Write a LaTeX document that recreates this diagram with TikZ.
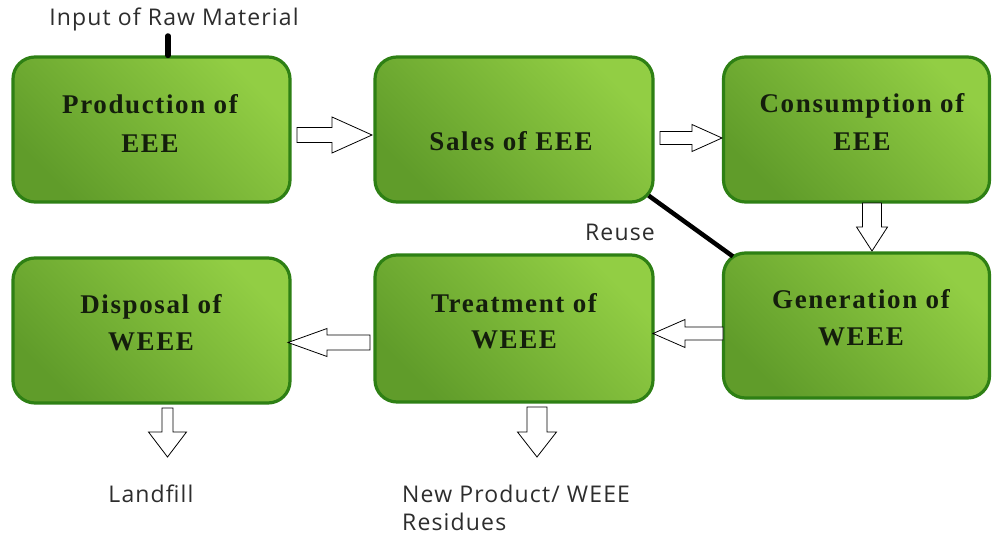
\documentclass[tikz,border=0pt]{standalone}
\usepackage{fontspec}
\setmainfont{Liberation Serif}
\newfontfamily\labfont[LetterSpace=5]{Open Sans}
\newfontfamily\boxfont[LetterSpace=6]{Liberation Serif}
\usetikzlibrary{calc}
\definecolor{gLight}{RGB}{146,206,68}
\definecolor{gDark}{RGB}{96,156,42}
\definecolor{gBorder}{RGB}{46,128,20}
\definecolor{labgray}{RGB}{45,45,45}
\definecolor{boxtext}{RGB}{20,30,12}
% horizontal hollow arrow: tail x, head base x, tip x, y, half shaft, half head
\newcommand\BArrH[6]{\draw[hollow] ({#1},{#4-#5}) -- ({#2},{#4-#5}) -- ({#2},{#4-#6}) -- ({#3},{#4}) -- ({#2},{#4+#6}) -- ({#2},{#4+#5}) -- ({#1},{#4+#5}) -- cycle;}
% vertical hollow arrow: x, tail y, head base y, tip y, half shaft, half head
\newcommand\BArrV[6]{\draw[hollow] ({#1-#5},{#2}) -- ({#1-#5},{#3}) -- ({#1-#6},{#3}) -- ({#1},{#4}) -- ({#1+#6},{#3}) -- ({#1+#5},{#3}) -- ({#1+#5},{#2}) -- cycle;}
\tikzset{
  box/.style={draw=gBorder, line width=3.2pt, rounded corners=22pt,
    top color=gLight, bottom color=gDark, shading angle=-45, inner sep=0pt},
  btext/.style={anchor=base, inner sep=0pt, text=boxtext,
    font=\boxfont\bfseries\fontsize{27}{30}\selectfont},
  lab/.style={inner sep=0pt, text=labgray, font=\labfont\fontsize{23}{27}\selectfont},
  hollow/.style={draw=black, fill=white, line width=0.8pt, line join=miter},
  thickline/.style={draw=black, line width=4.5pt, line cap=round}
}
\begin{document}
\begin{tikzpicture}[x=1pt,y=-1pt]
\useasboundingbox[fill=white] (0,0) rectangle (992,535);
% boxes
\node[box, minimum width=277pt, minimum height=145pt] (prod) at (151.5,129.5) {};
\node[box, minimum width=278pt, minimum height=145pt] (sales) at (514,129.5) {};
\node[box, minimum width=266pt, minimum height=145pt] (cons) at (856.5,129.5) {};
\node[box, minimum width=266pt, minimum height=145pt] (gen) at (856.5,325.5) {};
\node[box, minimum width=278pt, minimum height=147pt] (treat) at (514,328.5) {};
\node[box, minimum width=277pt, minimum height=145pt] (disp) at (151.5,330.5) {};
% box texts
\node[btext] (prodA) at (150,113) {Production of};
\node[btext] (prodB) at (150,152) {EEE};
\node[btext] (salesA) at (511,150) {Sales of EEE};
\node[btext] (consA) at (862,112) {Consumption of};
\node[btext] (consB) at (862,150) {EEE};
\node[btext] (genA) at (861,308) {Generation of};
\node[btext] (genB) at (861,345) {WEEE};
\node[btext] (treatA) at (514,312) {Treatment of};
\node[btext] (treatB) at (514,348) {WEEE};
\node[btext] (dispA) at (151,313) {Disposal of};
\node[btext] (dispB) at (151,350) {WEEE};
% hollow block arrows
\BArrH{297}{332}{372}{135}{7.5}{18}
\BArrH{660}{692}{722}{138}{6.5}{13.5}
\BArrV{872}{203}{227}{251}{9.5}{15.5}
\BArrH{723}{685}{653}{333.5}{6.5}{14}
\BArrH{370}{327}{288}{342.5}{7.5}{14}
\BArrV{167.5}{408}{432}{457}{5.5}{19}
\BArrV{537}{407}{432}{457}{10}{19.5}
% labels
\node[lab, anchor=base] (inlab) at (174,26) {Input of Raw Material};
\node[lab, anchor=base] (reuse) at (620,240) {Reuse};
\node[lab, anchor=base] (landfill) at (151,502) {Landfill};
\node[lab, anchor=base west] (newp) at (402,502) {New Product/ WEEE};
\node[lab, anchor=base west] (resid) at (402,530) {Residues};
% black lines
\coordinate (inTop) at (168,36);
\draw[thickline, line width=5.5pt] (inTop) -- (inTop |- prod.north);
\draw[thickline, line cap=butt] ([shift={(-6,-8)}]sales.south east) -- ([shift={(11,5)}]gen.north west);
\end{tikzpicture}
\end{document}
